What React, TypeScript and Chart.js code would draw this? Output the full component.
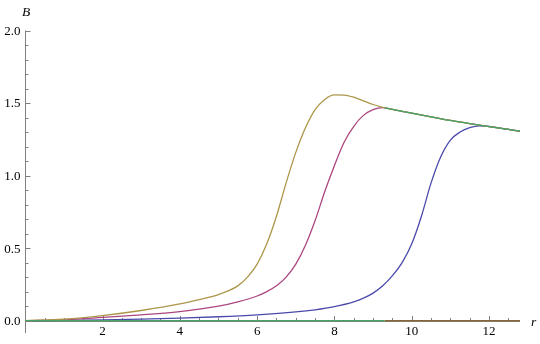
import React, { useEffect, useRef } from "react";
import { Chart, registerables } from "chart.js";

Chart.register(...registerables);

// ---- data ----
const X_MIN = 0;
const X_MAX = 12.8;
const Y_MIN = -0.085;
const Y_MAX = 2.0;

const xTickLabels = [2, 4, 6, 8, 10, 12];
const yTickLabels = [0, 0.5, 1.0, 1.5, 2.0];

const blueR = [0, 1, 2, 3, 4, 5, 6, 7, 7.5, 8, 8.5, 8.75, 9, 9.25, 9.5, 9.75, 10, 10.25, 10.5, 10.75, 11, 11.25, 11.5, 11.75, 12, 12.5, 12.8];
const blueB = [0, 0.002, 0.006, 0.011, 0.018, 0.027, 0.04, 0.06, 0.075, 0.097, 0.13, 0.155, 0.19, 0.24, 0.31, 0.4, 0.53, 0.72, 0.95, 1.13, 1.245, 1.3, 1.33, 1.342, 1.339, 1.318, 1.306];

const magentaR = [0, 1, 2, 3, 4, 4.5, 5, 5.5, 6, 6.25, 6.5, 6.75, 7, 7.25, 7.5, 7.75, 8, 8.25, 8.5, 8.75, 9, 9.25, 9.5, 10, 10.5, 11, 11.5, 12, 12.5, 12.8];
const magentaB = [0, 0.006, 0.022, 0.04, 0.063, 0.08, 0.1, 0.13, 0.17, 0.2, 0.24, 0.3, 0.39, 0.52, 0.69, 0.89, 1.07, 1.23, 1.34, 1.415, 1.455, 1.468, 1.456, 1.43, 1.405, 1.38, 1.358, 1.338, 1.318, 1.306];

const oliveR = [0, 1, 2, 3, 4, 4.5, 5, 5.25, 5.5, 5.75, 6, 6.25, 6.5, 6.75, 7, 7.25, 7.5, 7.75, 8, 8.25, 8.5, 8.75, 9, 9.25, 9.5, 10, 10.5, 11, 11.5, 12, 12.5, 12.8];
const oliveB = [0, 0.01, 0.035, 0.07, 0.115, 0.145, 0.18, 0.205, 0.24, 0.3, 0.39, 0.53, 0.72, 0.95, 1.16, 1.33, 1.455, 1.525, 1.556, 1.555, 1.54, 1.515, 1.49, 1.47, 1.456, 1.43, 1.405, 1.38, 1.358, 1.338, 1.318, 1.306];

// green: zero branch, then the upper envelope branch
const greenLowR = [0, 9.3];
const greenLowB = [0, 0];
const greenHighR = [9.3, 9.5, 10, 10.5, 11, 11.5, 12, 12.5, 12.8];
const greenHighB = [1.466, 1.456, 1.43, 1.405, 1.38, 1.358, 1.338, 1.318, 1.306];

const brownR = [9.3, 12.8];
const brownB = [0, 0];

const COLORS = {
  blue: "rgb(74,74,172)",
  magenta: "rgb(172,70,128)",
  olive: "rgb(172,150,74)",
  green: "rgb(70,165,98)",
  brown: "rgb(140,100,50)",
};

const pts = (r: number[], b: number[]) => r.map((x, i) => ({ x, y: b[i] }));

const axesPlugin = {
  id: "mmaAxes",
  beforeDatasetsDraw(chart: any) {
    const { ctx } = chart;
    const xs = chart.scales.x;
    const ys = chart.scales.y;
    const x0 = Math.round(xs.getPixelForValue(0)) + 0.5;
    const y0 = Math.round(ys.getPixelForValue(0)) + 0.5;
    const line = (a: number, b: number, c: number, d: number) => {
      ctx.beginPath();
      ctx.moveTo(a, b);
      ctx.lineTo(c, d);
      ctx.stroke();
    };
    ctx.save();
    ctx.strokeStyle = "#808080";
    ctx.lineWidth = 1;
    line(x0, ys.getPixelForValue(Y_MAX), x0, ys.getPixelForValue(Y_MIN));
    line(x0, y0, xs.getPixelForValue(X_MAX), y0);
    for (let k = 0; k <= 20; k++) {
      const py = Math.round(ys.getPixelForValue(k / 10)) + 0.5;
      const len = k % 5 === 0 ? 5 : 3;
      line(x0, py, x0 + len, py);
    }
    for (let k = 1; k * 0.5 <= X_MAX; k++) {
      const px = Math.round(xs.getPixelForValue(k * 0.5)) + 0.5;
      const len = k % 4 === 0 ? 5.5 : 3.5;
      line(px, y0, px, y0 - len);
    }
    ctx.fillStyle = "#000";
    ctx.font = '13px "Liberation Serif"';
    ctx.textAlign = "right";
    ctx.textBaseline = "middle";
    yTickLabels.forEach((v) => {
      ctx.fillText(v.toFixed(1), x0 - 5, ys.getPixelForValue(v) + 1);
    });
    ctx.textAlign = "center";
    ctx.textBaseline = "alphabetic";
    xTickLabels.forEach((v) => {
      ctx.fillText(String(v), xs.getPixelForValue(v), y0 + 13);
    });
    ctx.font = 'italic 13.5px "Liberation Serif"';
    ctx.textAlign = "left";
    ctx.fillText("B", 22, 16);
    ctx.fillText("r", 531, 326);
    ctx.restore();
  },
};

export default function App() {
  const ref = useRef<HTMLCanvasElement | null>(null);
  useEffect(() => {
    if (!ref.current) return;
    const mk = (label: string, data: any[], color: string, order: number) => ({
      label,
      data,
      order,
      borderColor: color,
      backgroundColor: color,
      borderWidth: 1.3,
      pointRadius: 0,
      fill: false,
      cubicInterpolationMode: "monotone" as const,
      spanGaps: false,
      clip: 4,
    });
    const greenData = [
      ...pts(greenLowR, greenLowB),
      { x: 9.3, y: null },
      ...pts(greenHighR, greenHighB),
    ];
    const chart = new Chart(ref.current, {
      type: "line",
      data: {
        datasets: [
          mk("1", pts(blueR, blueB), COLORS.blue, 5),
          mk("2", pts(magentaR, magentaB), COLORS.magenta, 4),
          mk("3", pts(oliveR, oliveB), COLORS.olive, 3),
          mk("4", greenData, COLORS.green, 1),
          mk("5", pts(brownR, brownB), COLORS.brown, 2),
        ],
      },
      options: {
        responsive: false,
        animation: false,
        devicePixelRatio: 1,
        parsing: false as any,
        layout: { padding: { left: 25.2, right: 20, top: 30.5, bottom: 11 } },
        plugins: { legend: { display: false }, tooltip: { enabled: false } },
        scales: {
          x: { type: "linear", min: X_MIN, max: X_MAX, display: false },
          y: { type: "linear", min: Y_MIN, max: Y_MAX, display: false },
        },
      },
      plugins: [axesPlugin],
    });
    return () => chart.destroy();
  }, []);
  return (
    <div style={{ position: "fixed", left: 0, top: 0, width: 540, height: 344, background: "#fff" }}>
      <canvas ref={ref} width={540} height={344} style={{ display: "block" }} />
    </div>
  );
}
